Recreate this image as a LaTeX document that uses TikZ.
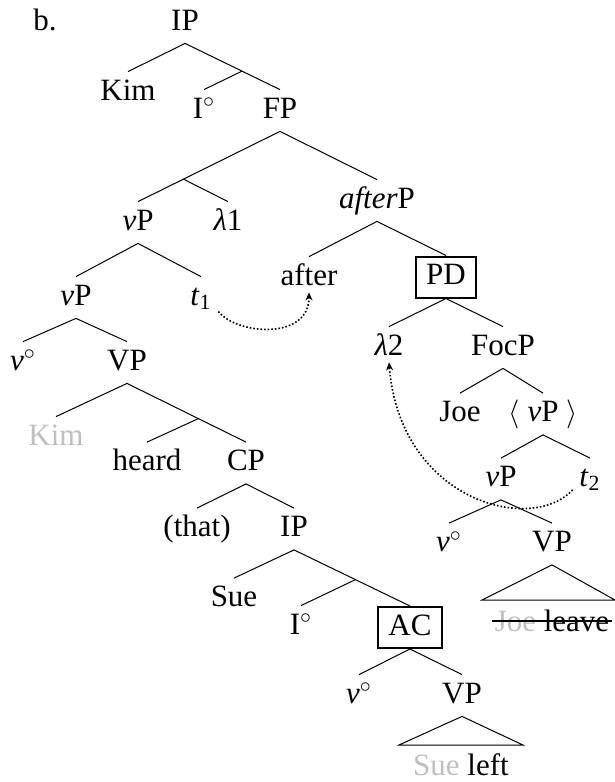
\documentclass[tikz,border=0pt]{standalone}
\usepackage{fontspec}
\setmainfont{Liberation Serif}
\usepackage{xcolor}
\usepackage{tikz}
\usetikzlibrary{arrows.meta}

\begin{document}
\begin{tikzpicture}[
        x=0.5pt, y=-0.5pt,
        every node/.style={font=\fontsize{15.5}{18}\selectfont, inner sep=3.2pt, text height=10.8pt, text depth=3.3pt},
        boxed/.style={draw, line width=1pt, inner xsep=5pt},
        faded/.style={text=black!25},
        branch/.style={line width=0.5pt},
        trace/.style={densely dotted, line width=0.8pt, -{Stealth[length=4pt,width=3.5pt]}}]

    \useasboundingbox (0,0) rectangle (615,782);

    \node (lbl) at (45,22.5) {b.};
    \node (ip) at (185,22.5) {IP};
    \node (kim) at (128,92.5) {Kim};
    \node (infl) at (204,110.5) {I$^\circ$};
    \node (fp) at (280,110.5) {FP};
    \node (vp) at (138,222.5) {\textit{v}P};
    \node (lamone) at (228,222.5) {\textit{λ}1};
    \node (afterp) at (377,200.5) {\textit{after}P};
    \node (after) at (309,277.5) {after};
    \node[boxed] (pd) at (446,277) {PD};
    \node (lamtwo) at (389,347.5) {\textit{λ}2};
    \node (focp) at (503,347.5) {FocP};
    \node (joe) at (460,414) {Joe};
    \node (angvp) at (543,414) {$\langle$ \textit{v}P $\rangle$};
    \node (vpb) at (501,479) {\textit{v}P};
    \node (ttwo) at (590,479) {\textit{t}\textsubscript{2}};
    \node (vb) at (449,544) {\textit{v}$^\circ$};
    \node (vpc) at (552,544) {VP};
    \node (jl) at (552,624) {\textcolor{black!25}{Joe} leave};

    \node (vpa) at (76,297.5) {\textit{v}P};
    \node (tone) at (201,297.5) {\textit{t}\textsubscript{1}};
    \node (va) at (23,362.5) {\textit{v}$^\circ$};
    \node (vpd) at (127,362.5) {VP};
    \node[faded] (kimb) at (56,437.5) {Kim};
    \node (heard) at (147,463) {heard};
    \node (cp) at (246,463) {CP};
    \node (that) at (197,529) {(that)};
    \node (ipb) at (294,529) {IP};
    \node (sue) at (234,599) {Sue};
    \node (inflb) at (301,626.5) {I$^\circ$};
    \node[boxed] (ac) at (410,627.5) {AC};
    \node (vc) at (359,695.5) {\textit{v}$^\circ$};
    \node (vpe) at (462,695.5) {VP};
    \node (sl) at (461,767.5) {\textcolor{black!25}{Sue} left};

    \draw[branch] (ip.south) -- (kim.north);
    \draw[branch] (ip.south) -- coordinate[pos=0.6] (ipm) (fp.north);
    \draw[branch] (ipm) -- (infl.north);
    \draw[branch] (fp.south) -- coordinate[pos=0.68] (fpm) (vp.north);
    \draw[branch] (fpm) -- (lamone.north);
    \draw[branch] (fp.south) -- (afterp.north);
    \draw[branch] (afterp.south) -- (after.north);
    \draw[branch] (afterp.south) -- (pd.north);
    \draw[branch] (pd.south) -- (lamtwo.north);
    \draw[branch] (pd.south) -- (focp.north);
    \draw[branch] (focp.south) -- (joe.north);
    \draw[branch] (focp.south) -- (angvp.north);
    \draw[branch] (angvp.south) -- (vpb.north);
    \draw[branch] (angvp.south) -- (ttwo.north);
    \draw[branch] (vpb.south) -- (vb.north);
    \draw[branch] (vpb.south) -- (vpc.north);
    \draw[branch] (vpc.south) -- (482,600) -- (615,600) -- cycle;
    \draw[line width=1pt] ([xshift=2pt,yshift=1.5pt]jl.west) -- ([xshift=-2pt,yshift=1.5pt]jl.east);

    \draw[branch] (vp.south) -- (vpa.north);
    \draw[branch] (vp.south) -- (tone.north);
    \draw[branch] (vpa.south) -- (va.north);
    \draw[branch] (vpa.south) -- (vpd.north);
    \draw[branch] (vpd.south) -- (kimb.north);
    \draw[branch] (vpd.south) -- coordinate[pos=0.6] (vpdm) (cp.north);
    \draw[branch] (vpdm) -- (heard.north);
    \draw[branch] (cp.south) -- (that.north);
    \draw[branch] (cp.south) -- (ipb.north);
    \draw[branch] (ipb.south) -- (sue.north);
    \draw[branch] (ipb.south) -- coordinate[pos=0.53] (ipbm) (ac.north);
    \draw[branch] (ipbm) -- (inflb.north);
    \draw[branch] (ac.south) -- (vc.north);
    \draw[branch] (ac.south) -- (vpe.north);
    \draw[branch] (vpe.south) -- (399,745) -- (523,745) -- cycle;

    \draw[trace] ([yshift=-7pt]tone.east) .. controls +(19,23.5) and +(0,48) .. ([yshift=3pt]after.south);
    \draw[trace] ([yshift=5pt]ttwo.south west) .. controls +(-42,45) and +(11,138) .. ([yshift=3pt]lamtwo.south);
\end{tikzpicture}
\end{document}
